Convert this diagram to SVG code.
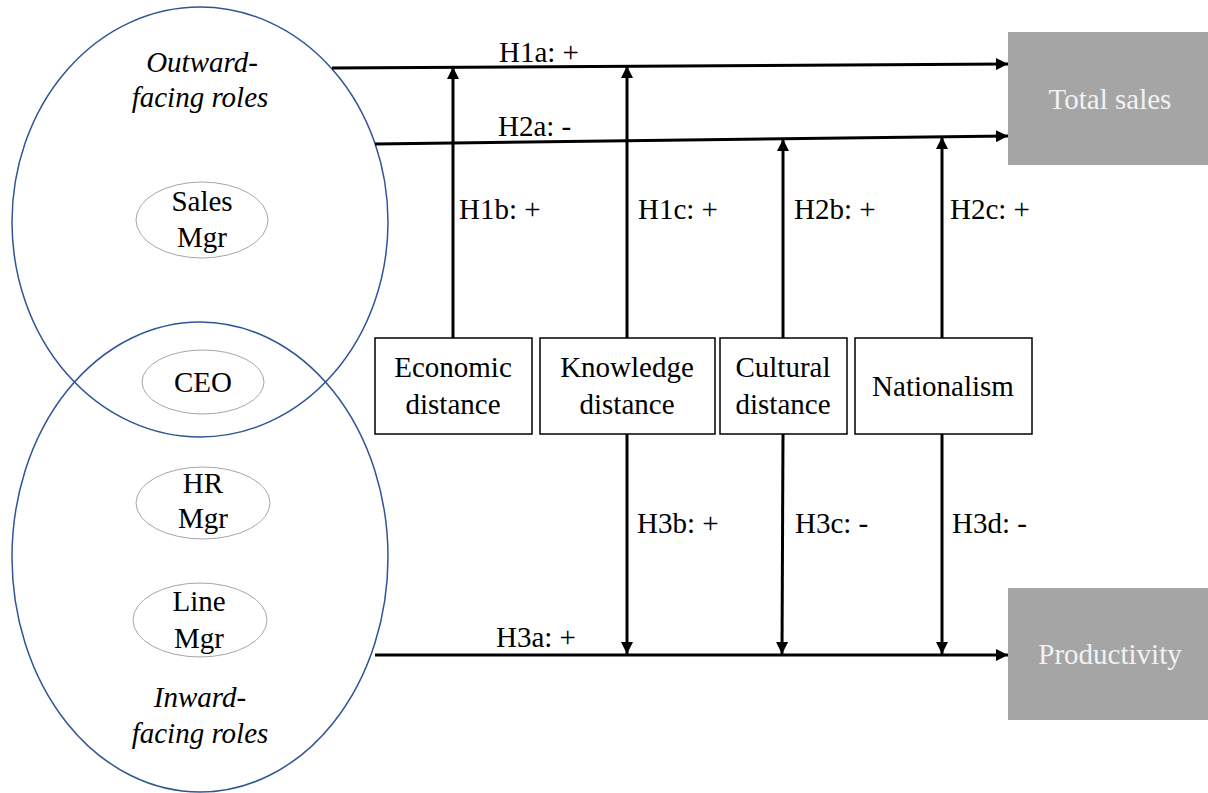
<svg xmlns="http://www.w3.org/2000/svg" width="1208" height="793" viewBox="0 0 1208 793">
<style>
text{font-family:"Liberation Serif","Times New Roman",serif;font-size:29px;fill:#000}
.c{text-anchor:middle}
.it{font-style:italic}
.big{fill:none;stroke:#2f5597;stroke-width:1.5}
.small{fill:none;stroke:#a6a6a6;stroke-width:1}
.box{fill:#fff;stroke:#000;stroke-width:1.5}
.out{fill:#a5a5a5}
.wt{fill:#f2f2f2}
.ln{stroke:#000;stroke-width:3;fill:none;marker-end:url(#ah)}
</style>
<defs>
<marker id="ah" viewBox="0 0 10 10" refX="10" refY="5" markerWidth="4.5" markerHeight="4" orient="auto" markerUnits="strokeWidth">
<path d="M0,0 L10,5 L0,10 z" fill="#000"/>
</marker>
</defs>
<rect width="1208" height="793" fill="#fff"/>
<g id="outward">
<ellipse class="big" cx="200" cy="222" rx="188" ry="215"/>
<text class="c it" x="202" y="72">Outward-</text>
<text class="c it" x="200" y="107">facing roles</text>
</g>
<g id="inward">
<ellipse class="big" cx="200" cy="557" rx="188" ry="235"/>
<text class="c it" x="200" y="707">Inward-</text>
<text class="c it" x="200" y="743">facing roles</text>
</g>
<g id="sales-mgr">
<ellipse class="small" cx="202" cy="220" rx="66" ry="38"/>
<text class="c" x="202" y="211">Sales</text>
<text class="c" x="202" y="247">Mgr</text>
</g>
<g id="ceo">
<ellipse class="small" cx="203" cy="382" rx="61" ry="32"/>
<text class="c" x="203" y="392">CEO</text>
</g>
<g id="hr-mgr">
<ellipse class="small" cx="203" cy="503" rx="67" ry="36"/>
<text class="c" x="203" y="493">HR</text>
<text class="c" x="203" y="528">Mgr</text>
</g>
<g id="line-mgr">
<ellipse class="small" cx="200" cy="620" rx="67" ry="37"/>
<text class="c" x="199" y="611">Line</text>
<text class="c" x="199" y="648">Mgr</text>
</g>
<g id="economic">
<rect class="box" x="375" y="338" width="157" height="96"/>
<text class="c" x="453" y="377">Economic</text>
<text class="c" x="453" y="414">distance</text>
</g>
<g id="knowledge">
<rect class="box" x="540" y="338" width="175" height="96"/>
<text class="c" x="627" y="377">Knowledge</text>
<text class="c" x="627" y="414">distance</text>
</g>
<g id="cultural">
<rect class="box" x="720" y="338" width="127" height="96"/>
<text class="c" x="783" y="377">Cultural</text>
<text class="c" x="783" y="414">distance</text>
</g>
<g id="nationalism">
<rect class="box" x="855" y="338" width="177" height="96"/>
<text class="c" x="943" y="396">Nationalism</text>
</g>
<g id="total-sales">
<rect class="out" x="1008" y="32" width="200" height="133"/>
<text class="c wt" x="1110" y="109">Total sales</text>
</g>
<g id="productivity">
<rect class="out" x="1008" y="588" width="200" height="132"/>
<text class="c wt" x="1110" y="664">Productivity</text>
</g>
<g id="connectors">
<line class="ln" x1="332" y1="68" x2="1008" y2="64"/>
<line class="ln" x1="375" y1="144" x2="1008" y2="136"/>
<line class="ln" x1="375" y1="655" x2="1008" y2="655"/>
<line class="ln" x1="453" y1="338" x2="453" y2="67"/>
<line class="ln" x1="627" y1="338" x2="627" y2="66"/>
<line class="ln" x1="783" y1="338" x2="783" y2="139"/>
<line class="ln" x1="942" y1="338" x2="942" y2="137"/>
<line class="ln" x1="627" y1="434" x2="627" y2="654"/>
<line class="ln" x1="783" y1="434" x2="782" y2="654"/>
<line class="ln" x1="942" y1="434" x2="942" y2="654"/>
<text x="499" y="62">H1a: +</text>
<text x="498" y="136">H2a: -</text>
<text x="496" y="647">H3a: +</text>
<text x="459" y="219">H1b: +</text>
<text x="638" y="219">H1c: +</text>
<text x="794" y="219">H2b: +</text>
<text x="950" y="219">H2c: +</text>
<text x="637" y="533">H3b: +</text>
<text x="795" y="533">H3c: -</text>
<text x="952" y="533">H3d: -</text>
</g>
</svg>
